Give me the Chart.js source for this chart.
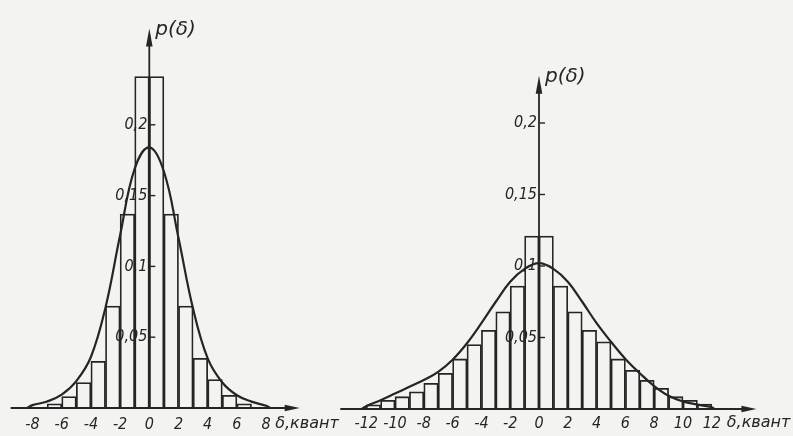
<!DOCTYPE html>
<html><head><meta charset="utf-8">
<script src="https://cdn.jsdelivr.net/npm/chart.js@4.4.1/dist/chart.umd.min.js"></script>
<style>
html,body{margin:0;padding:0;background:#f3f3f1;overflow:hidden;width:793px;height:436px;position:relative;}
canvas{position:absolute;top:0;}
#c1{left:0}
#c2{left:340px}
</style></head><body>
<canvas id="c1" width="345" height="436"></canvas>
<canvas id="c2" width="480" height="436"></canvas>
<script>
// ---------- data: left histogram ----------
const leftBinCenters = [-6.5,-5.5,-4.5,-3.5,-2.5,-1.5,-0.5,0.5,1.5,2.5,3.5,4.5,5.5,6.5];
const leftBinValues  = [0.003,0.008,0.018,0.033,0.072,0.137,0.234,0.234,0.137,0.072,0.035,0.020,0.009,0.003];
const leftCurveX = [-8.4,-8,-7,-6,-5,-4,-3,-2,-1,0,1,2,3,4,5,6,7,8,8.3];
const leftCurveY = [0,0.002,0.0046,0.0094,0.019,0.036,0.071,0.122,0.169,0.184,0.167,0.120,0.070,0.035,0.018,0.009,0.0045,0.0016,0];
const leftXTicks = [-8,-6,-4,-2,0,2,4,6,8];
const leftYTicks = [0.05,0.1,0.15,0.2];
const leftYTickLabels = ['0,05','0,1','0,15','0,2'];

// ---------- data: right histogram ----------
const rightBinCenters = [-11.5,-10.5,-9.5,-8.5,-7.5,-6.5,-5.5,-4.5,-3.5,-2.5,-1.5,-0.5,0.5,1.5,2.5,3.5,4.5,5.5,6.5,7.5,8.5,9.5,10.5,11.5];
const rightBinValues  = [0.003,0.006,0.0086,0.012,0.018,0.025,0.035,0.045,0.055,0.068,0.086,0.121,0.121,0.086,0.068,0.055,0.047,0.035,0.027,0.020,0.0145,0.0086,0.006,0.0035];
const rightCurveX = [-12.3,-12,-11,-10,-9,-8,-7,-6,-5,-4,-3,-2,-1,0,1,2,3,4,5,6,7,8,9,10,11,12,12.2];
const rightCurveY = [0,0.002,0.0062,0.0108,0.0155,0.0203,0.026,0.0345,0.046,0.060,0.075,0.089,0.098,0.102,0.098,0.089,0.075,0.060,0.047,0.035,0.025,0.016,0.0092,0.0052,0.0031,0.0012,0];
const rightXTicks = [-12,-10,-8,-6,-4,-2,0,2,4,6,8,10,12];
const rightYTicks = [0.05,0.1,0.15,0.2];
const rightYTickLabels = ['0,05','0,1','0,15','0,2'];

const yTitle = 'p(δ)';
const xTitle = 'δ,квант';

const INK = '#252525';
const NARROW = '"DejaVu Sans Condensed", "DejaVu Sans", sans-serif';
const WIDE = '"DejaVu Sans", sans-serif';

const axesPlugin = {
  id: 'axes',
  afterDatasetsDraw(chart, args, o) {
    const xs = chart.scales.x, ys = chart.scales.y, ctx = chart.ctx;
    const x0 = xs.getPixelForValue(0), yb = ys.getPixelForValue(0);
    ctx.save();
    ctx.strokeStyle = INK; ctx.fillStyle = INK; ctx.lineWidth = 1.8;
    // x axis with arrow
    const xa = xs.getPixelForValue(o.xFrom), xb = xs.getPixelForValue(o.xTo);
    ctx.beginPath(); ctx.moveTo(xa, yb); ctx.lineTo(xb - 6, yb); ctx.stroke();
    ctx.beginPath(); ctx.moveTo(xb, yb); ctx.lineTo(xb - 15, yb - 3.3); ctx.lineTo(xb - 15, yb + 3.3); ctx.closePath(); ctx.fill();
    // y axis with arrow
    const yt = ys.getPixelForValue(o.yTo);
    ctx.beginPath(); ctx.moveTo(x0, yb); ctx.lineTo(x0, yt + 6); ctx.stroke();
    ctx.beginPath(); ctx.moveTo(x0, yt); ctx.lineTo(x0 - 3.3, yt + 18); ctx.lineTo(x0 + 3.3, yt + 18); ctx.closePath(); ctx.fill();
    // y ticks and labels
    ctx.lineWidth = 1.4;
    ctx.font = 'italic 16px ' + NARROW;
    ctx.textAlign = 'right'; ctx.textBaseline = 'middle';
    o.yTicks.forEach((v, i) => {
      const py = ys.getPixelForValue(v);
      ctx.beginPath(); ctx.moveTo(x0, py); ctx.lineTo(x0 + 6, py); ctx.stroke();
      ctx.fillText(o.yLabels[i], x0 - 2, py);
    });
    // y title
    ctx.font = 'italic 20px ' + WIDE;
    ctx.textAlign = 'left';
    ctx.fillText(yTitle, x0 + 6, yt + 1);
    // x title
    ctx.font = 'italic 16px ' + WIDE;
    ctx.textAlign = 'center';
    ctx.fillText(xTitle, xs.getPixelForValue(o.xTitleAt), yb + o.titleDy);
    ctx.restore();
  }
};

function makeChart(id, centers, values, cx, cy, xTicks, g) {
  return new Chart(document.getElementById(id), {
    type: 'bar',
    data: {
      datasets: [
        {
          type: 'line',
          data: cx.map((x, i) => ({x: x, y: cy[i]})),
          borderColor: INK, borderWidth: 2.2, pointRadius: 0,
          tension: 0.4, fill: false, order: 0
        },
        {
          type: 'bar',
          data: centers.map((x, i) => ({x: x, y: values[i]})),
          backgroundColor: 'rgba(0,0,0,0)', borderColor: INK, borderWidth: 1.1,
          barPercentage: 1, categoryPercentage: 1, order: 1
        }
      ]
    },
    options: {
      responsive: false, animation: false,
      layout: {padding: 0},
      plugins: {
        legend: {display: false}, tooltip: {enabled: false},
        axes: g
      },
      scales: {
        x: {
          type: 'linear', offset: false, min: g.xMin, max: g.xMax,
          grid: {display: false, drawTicks: false}, border: {display: false},
          afterBuildTicks: s => { s.ticks = xTicks.map(v => ({value: v})); },
          afterFit: s => { s.height = g.axisH; },
          ticks: {autoSkip: false, maxRotation: 0, padding: g.tickPad, color: INK,
                  font: {family: NARROW, size: 16, style: 'italic'}}
        },
        y: {
          type: 'linear', display: false, min: 0, max: g.yMax
        }
      }
    },
    plugins: [axesPlugin]
  });
}

// left: pixel = 149.3 + 14.6*v, baseline 408, 1416 px per unit
makeChart('c1', leftBinCenters, leftBinValues, leftCurveX, leftCurveY, leftXTicks, {
  xMin: -149.3/14.6, xMax: (345-149.3)/14.6, yMax: 408/1416, axisH: 28, tickPad: 7,
  xFrom: -9.5, xTo: 10.3, yTo: 0.268, xTitleAt: 10.8, titleDy: 16,
  yTicks: leftYTicks, yLabels: leftYTickLabels
});
// right: pixel(page) = 539 + 14.4*v, canvas starts at 340, baseline 409, 1430 px per unit
makeChart('c2', rightBinCenters, rightBinValues, rightCurveX, rightCurveY, rightXTicks, {
  xMin: (340-539)/14.4, xMax: (820-539)/14.4, yMax: 409/1430, axisH: 27, tickPad: 5,
  xFrom: -13.8, xTo: 15.1, yTo: 0.233, xTitleAt: 15.25, titleDy: 14,
  yTicks: rightYTicks, yLabels: rightYTickLabels
});
</script>
</body></html>
